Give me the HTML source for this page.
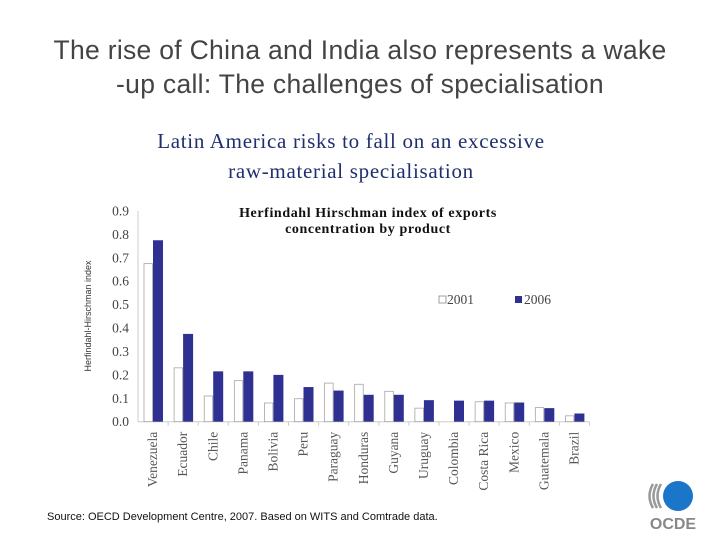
<!DOCTYPE html>
<html><head><meta charset="utf-8"><style>
body{margin:0;width:720px;height:540px;background:#fff;overflow:hidden;position:relative;font-family:"Liberation Sans",sans-serif}
.t{position:absolute;white-space:nowrap}
</style></head><body>
<div class="t" style="left:0;width:720px;text-align:center;top:33px;font-size:26.5px;letter-spacing:0.3px;line-height:34px;color:#444">The rise of China and India also represents a wake<br>-up call: The challenges of specialisation</div>
<div class="t" style="left:100px;width:502px;text-align:center;top:126px;font-family:'Liberation Serif',serif;font-size:21px;letter-spacing:0.7px;line-height:30px;color:#1f2f6e">Latin America risks to fall on an excessive<br>raw-material specialisation</div>
<svg id="ch" width="720" height="540" style="position:absolute;left:0;top:0"></svg>
<div class="t" style="left:47px;top:511px;font-size:11px;color:#111">Source: OECD Development Centre, 2007. Based on WITS and Comtrade data.</div>
<svg width="60" height="60" style="position:absolute;left:645px;top:478px">
<circle cx="33" cy="18" r="15" fill="#1b75c9"/>
<path d="M12 6 Q5 18 12 30" stroke="#999" stroke-width="2.5" fill="none"/>
<path d="M8 6 Q1 18 8 30" stroke="#999" stroke-width="2.5" fill="none"/>
<path d="M16 6 Q9 18 16 30" stroke="#999" stroke-width="2.5" fill="none"/>
<text x="28" y="51" text-anchor="middle" font-family="Liberation Sans" font-weight="bold" font-size="16" fill="#888">OCDE</text>
</svg>
<script>
const categories=["Venezuela","Ecuador","Chile","Panama","Bolivia","Peru","Paraguay","Honduras","Guyana","Uruguay","Colombia","Costa Rica","Mexico","Guatemala","Brazil"];
const values2001=[0.675,0.23,0.11,0.175,0.08,0.098,0.165,0.16,0.13,0.058,0.0,0.085,0.08,0.06,0.025];
const values2006=[0.775,0.375,0.215,0.215,0.2,0.148,0.133,0.115,0.115,0.092,0.09,0.09,0.082,0.058,0.035];
const yTicks=[0,0.1,0.2,0.3,0.4,0.5,0.6,0.7,0.8,0.9];
const ns="http://www.w3.org/2000/svg",svg=document.getElementById('ch');
const x0=138,step=30.1,y0=421.7,yTop=211;
const y=v=>y0-(v/0.9)*(y0-yTop);
const xc=i=>x0+i*step;
function mk(t,a,txt){const e=document.createElementNS(ns,t);for(const k in a)e.setAttribute(k,a[k]);if(txt!=null)e.textContent=txt;svg.appendChild(e);return e;}
let e;
e=mk('line',{x1:x0,y1:yTop,x2:x0,y2:y0,stroke:'#ccc'});


e=mk('line',{x1:x0,y1:y0,x2:x0+15*step,y2:y0,stroke:'#ccc'});


yTicks.forEach(v=>{
 e=mk('text',{x:x0-9,y:y(v)+4.5,'text-anchor':'end','font-family':'Liberation Serif','font-size':13.5,fill:'#444'},v.toFixed(1));
 
 
});
categories.forEach((c,i)=>{
 mk('line',{x1:xc(i+1),y1:y0,x2:xc(i+1),y2:y0+4,stroke:'#ccc'});
 e=mk('rect',{x:xc(i)+6,y:y(values2001[i]),width:8.5,height:y0-y(values2001[i]),fill:'#fff',stroke:'#999','stroke-width':0.7});
 
 
 e=mk('rect',{x:xc(i)+15,y:y(values2006[i]),width:10,height:y0-y(values2006[i]),fill:'#2e3192'});
 
 
 const cx=xc(i)+step/2+4;
 e=mk('text',{x:0,y:0,transform:`translate(${cx},${y0+10}) rotate(-90)`,'text-anchor':'end','font-family':'Liberation Serif','font-size':13.5,fill:'#555'},c);
 
 
});
e=mk('text',{x:0,y:0,transform:'translate(91,316) rotate(-90)','text-anchor':'middle','font-family':'Liberation Sans','font-size':9,fill:'#333'},'Herfindahl-Hirschman index');


e=mk('text',{x:368,y:217,'text-anchor':'middle','font-family':'Liberation Serif','font-weight':'bold','font-size':14,'letter-spacing':0.6,fill:'#111'},'Herfindahl Hirschman  index of exports');


e=mk('text',{x:368,y:233,'text-anchor':'middle','font-family':'Liberation Serif','font-weight':'bold','font-size':14,'letter-spacing':0.6,fill:'#111'},'concentration by product');


e=mk('rect',{x:439,y:296,width:7,height:7,fill:'#fff',stroke:'#777','stroke-width':0.7});


e=mk('text',{x:447,y:304,'font-family':'Liberation Serif','font-size':13.5,fill:'#444'},'2001');


e=mk('rect',{x:515,y:296,width:7,height:7,fill:'#2e3192'});


e=mk('text',{x:524,y:304,'font-family':'Liberation Serif','font-size':13.5,fill:'#444'},'2006');


</script>
</body></html>
